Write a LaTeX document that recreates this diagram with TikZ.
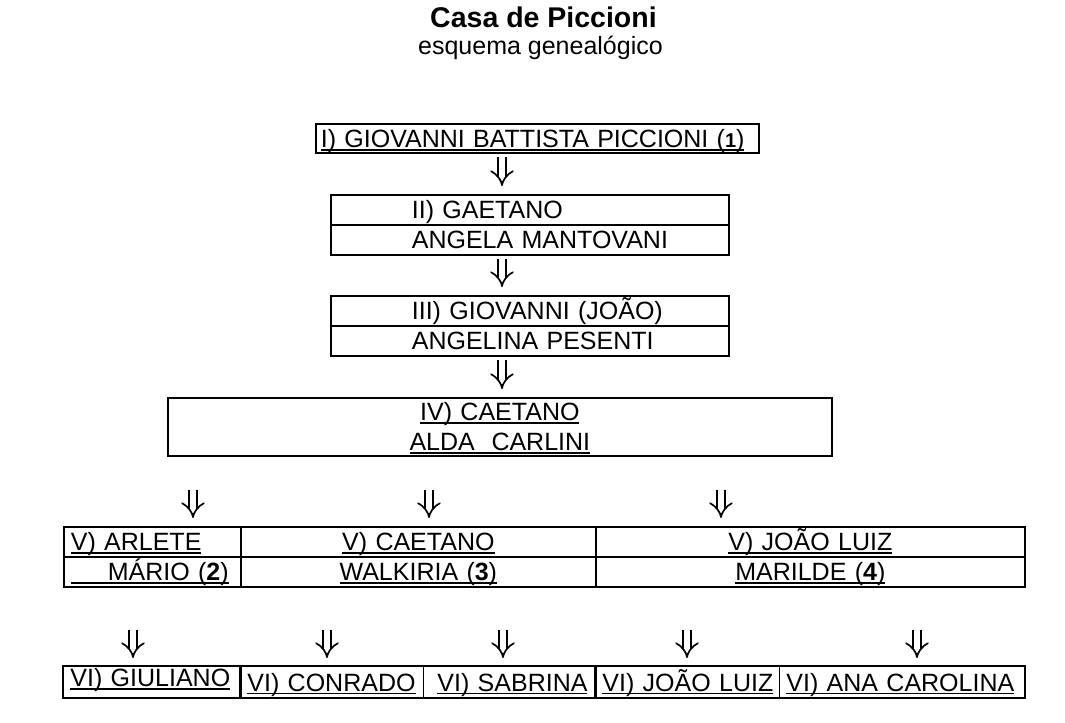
\documentclass[tikz,border=0pt]{standalone}
\usepackage{fontspec}
\setmainfont{Liberation Sans}
\usetikzlibrary{arrows.meta}
\newcommand\fs{\fontsize{25bp}{30bp}\selectfont}
\newcommand\ulname[1]{\leavevmode\setbox0\hbox{#1}\rlap{\copy0}\rule[-3.2bp]{\wd0}{1.8bp}}
\tikzset{
  box/.style={draw, line width=1.7bp, inner xsep=7bp, inner ysep=0pt, anchor=north west,
    align=left, font=\fs, text height=20.5bp, text depth=3.5bp, minimum height=30bp},
  wd/.style={text width=#1-14bp},
  dbl/.style={double, double distance=6.5bp, line width=1.7bp, -Implies},
}
\begin{document}
\begin{tikzpicture}[x=1bp, y=-1bp]
\useasboundingbox (0,0) rectangle (1065,723);
% titulo
\node[anchor=base, font=\fontsize{28.5bp}{34bp}\selectfont\bfseries] (tit) at (543.5,28) {Casa de Piccioni};
\node[anchor=base, font=\fs] (sub) at (540.5,55) {esquema genealógico};
% geracoes I a IV
\node[box, inner xsep=5bp, text width=433bp, minimum height=29bp, text height=19bp, text depth=0bp] (b1) at (315,123)
  {\ulname{I) GIOVANNI BATTISTA PICCIONI (\textbf{\fontsize{20bp}{24bp}\selectfont 1})}};
\node[box, wd=398bp] (b2a) at (330,194) {\hspace*{74bp}II) GAETANO};
\node[box, wd=398bp] (b2b) at (330,224) {\hspace*{74bp}ANGELA MANTOVANI};
\node[box, wd=398bp] (b3a) at (330,295) {\hspace*{74bp}III) GIOVANNI (JOÃO)};
\node[box, wd=398bp] (b3b) at (330,325) {\hspace*{74bp}ANGELINA PESENTI};
\node[box, wd=664bp, align=center, minimum height=58bp, text height=23bp, text depth=35bp] (b4) at (167,397)
  {\ulname{IV) CAETANO}\\\ulname{ALDA\ \ CARLINI}};
\coordinate (ax) at (502,0);
\draw[dbl, shorten <=3bp, shorten >=8bp] (b1.south -| ax) -- (b2a.north -| ax);
\draw[dbl, shorten <=3bp, shorten >=8bp] (b2b.south -| ax) -- (b3a.north -| ax);
\draw[dbl, shorten <=3bp, shorten >=8bp] (b3b.south -| ax) -- (b4.north -| ax);
% geracao V
\node[box, wd=177bp] (v1a) at (63,526) {\ulname{V) ARLETE}};
\node[box, wd=177bp] (v1b) at (63,556) {\ulname{\hspace*{37bp}MÁRIO (\textbf{2})}};
\node[box, wd=355bp, align=center] (v2a) at (240,526) {\ulname{V) CAETANO}};
\node[box, wd=355bp, align=center] (v2b) at (240,556) {\ulname{WALKIRIA (\textbf{3})}};
\node[box, wd=429bp, align=center] (v3a) at (595,526) {\ulname{V) JOÃO LUIZ}};
\node[box, wd=429bp, align=center] (v3b) at (595,556) {\ulname{MARILDE (\textbf{4})}};
\foreach \x [count=\i] in {193,429,721} {
  \coordinate (u\i) at (\x,0);
  \draw[dbl, shorten <=33bp, shorten >=8bp] (b4.south -| u\i) -- (v1a.north -| u\i);
}
% geracao VI
\tikzset{vi/.style={box, line width=0.9bp, minimum height=31bp, text height=22bp}}
\node[vi, wd=177bp, text height=12.5bp] (c1) at (63,666) {\ulname{VI) GIULIANO}};
\node[vi, wd=183bp] (c2) at (240,666) {\ulname{VI) CONRADO}};
\node[vi, wd=172bp] (c3) at (423,666) {\hspace*{7bp}\ulname{VI) SABRINA}};
\node[vi, wd=184bp] (c4) at (595,666) {\ulname{VI) JOÃO LUIZ}};
\node[vi, wd=245bp] (c5) at (779,666) {\ulname{VI) ANA CAROLINA}};
\draw[line width=1.7bp] (c1.north west) rectangle (c1.south east)
  (c2.north west) rectangle (c3.south east) (c4.north west) rectangle (c5.south east);
\foreach \x [count=\i] in {133,327,503,687,917} {
  \coordinate (w\i) at (\x,0);
  \draw[dbl, shorten <=42bp, shorten >=8bp] (v1b.south -| w\i) -- (c1.north -| w\i);
}
\end{tikzpicture}
\end{document}
